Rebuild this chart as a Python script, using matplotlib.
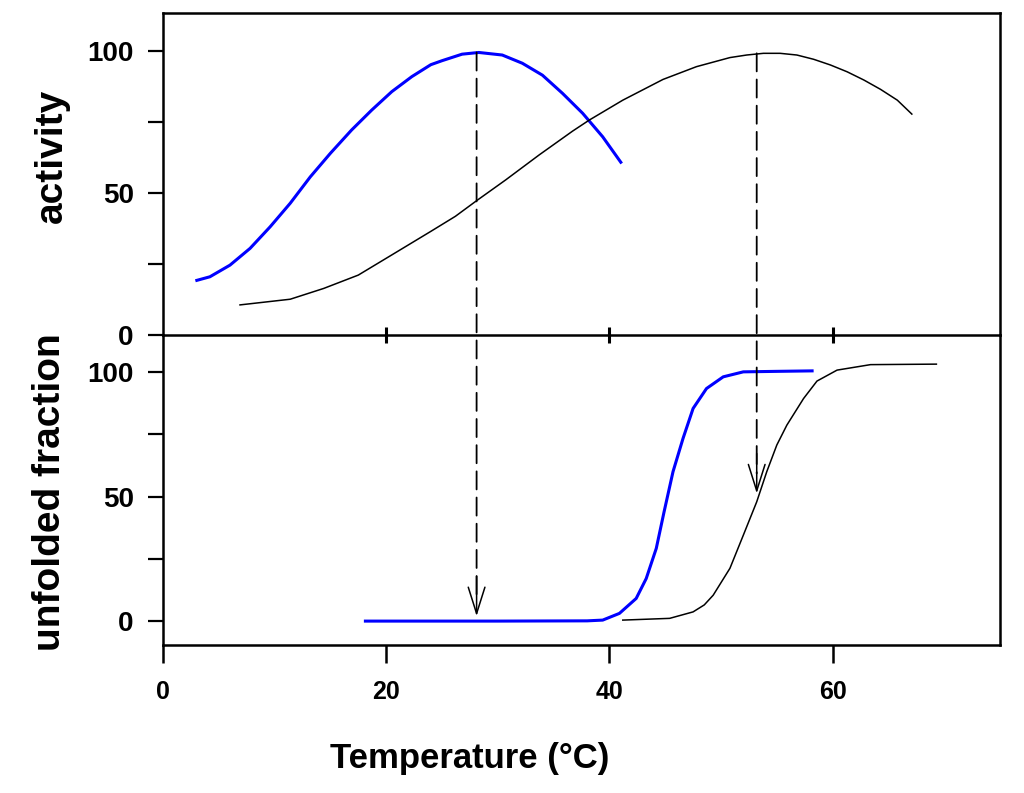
import matplotlib
matplotlib.use("Agg")
import matplotlib.pyplot as plt
from matplotlib import font_manager
from matplotlib.patches import ConnectionPatch

# activity vs temperature (top panel)
act_blue_t = [2.9, 4.2, 6.0, 7.8, 9.6, 11.4, 13.2, 15.0, 16.9, 18.7, 20.5, 22.3, 24.0,
              25.0, 26.8, 28.3, 30.4, 32.2, 34.0, 35.8, 37.6, 39.4, 41.1]
act_blue_y = [19.1, 20.5, 24.6, 30.5, 38.1, 46.4, 55.7, 64.0, 72.2, 79.2, 85.7, 91.0, 95.2,
              96.6, 98.9, 99.5, 98.6, 95.7, 91.5, 85.1, 78.1, 69.8, 60.4]

act_black_t = [6.9, 11.4, 14.4, 17.5, 20.5, 24.0, 26.2, 28.1, 30.7, 33.7, 36.7, 38.2, 41.2,
               44.8, 47.8, 50.8, 52.3, 53.8, 55.3, 56.8, 58.3, 59.8, 61.3, 62.8, 64.3, 65.8, 67.1]
act_black_y = [10.6, 12.6, 16.4, 21.1, 28.2, 36.5, 41.8, 47.3, 54.6, 63.4, 71.8, 75.7, 82.7,
               90.0, 94.5, 97.7, 98.6, 99.2, 99.2, 98.6, 97.1, 95.1, 92.7, 89.8, 86.5, 82.7, 77.8]

# unfolded fraction vs temperature (bottom panel)
unf_blue_t = [18, 30, 38, 39.4, 40.9, 42.4, 43.3, 44.2, 44.9, 45.7, 46.6, 47.5, 48.7,
              50.2, 52.0, 55.0, 58.3]
unf_blue_y = [0, 0, 0.1, 0.4, 3.1, 9.1, 17.1, 29.2, 43.9, 60.0, 73.4, 85.4, 93.4,
              98.1, 100.1, 100.3, 100.5]

unf_black_t = [41.2, 45.4, 47.5, 48.5, 49.3, 50.8, 52.0, 53.2, 54.1, 55.0, 55.9, 57.4, 58.6,
               60.4, 63.4, 69.3]
unf_black_y = [0.4, 1.1, 3.7, 6.5, 10.4, 21.2, 34.5, 47.9, 60.0, 70.7, 78.7, 89.4, 96.4,
               100.8, 103.0, 103.2]

# optimum temperatures marked by the dashed arrows: (T, activity at T, unfolded at arrow tip)
arrows = [(28.1, 99.5, 2.0), (53.2, 99.2, 51.3)]

x_ticks = [0, 20, 40, 60]
y_major = [0, 50, 100]
y_minor = [25, 75]

names = {f.name for f in font_manager.fontManager.ttflist}
base = "Liberation Sans" if "Liberation Sans" in names else "DejaVu Sans"
plt.rcParams["font.family"] = base
plt.rcParams["font.weight"] = "bold"

fig = plt.figure(figsize=(10.24, 7.93), dpi=100)
L, R = 163 / 1024, 1000 / 1024
ax1 = fig.add_axes([L, 1 - 335 / 793, R - L, (335 - 13) / 793])
ax2 = fig.add_axes([L, 1 - 645 / 793, R - L, (645 - 335) / 793])
ax2.patch.set_visible(False)

ax1.plot(act_blue_t, act_blue_y, color="#0000ff", lw=2.2, solid_capstyle="butt")
ax1.plot(act_black_t, act_black_y, color="black", lw=1.1)
ax2.plot(unf_blue_t, unf_blue_y, color="#0000ff", lw=2.2, solid_capstyle="butt")
ax2.plot(unf_black_t, unf_black_y, color="black", lw=1.1)

for ax in (ax1, ax2):
    ax.set_xlim(0, 75)
    for s in ax.spines.values():
        s.set_linewidth(1.8)
    ax.set_yticks(y_major)
    ax.set_yticks(y_minor, minor=True)
    ax.tick_params(axis="y", which="both", direction="out", length=11, width=1.6,
                   pad=10, labelsize=20, right=False)
    for lab in ax.get_yticklabels():
        lab.set_fontweight("bold")

ax1.set_ylim(0, 113.4)
ax2.set_ylim(-9.6, 114.9)
ax2.spines["top"].set_visible(False)
ax1.spines["bottom"].set_zorder(5)

ax1.set_xticks(x_ticks[1:])
ax1.tick_params(axis="x", direction="inout", length=12, width=2.2, labelbottom=False)

ax2.set_xticks(x_ticks)
ax2.tick_params(axis="x", direction="out", length=13, width=1.8, pad=12, labelsize=18)
for lab in ax2.get_xticklabels():
    lab.set_fontweight("bold")

for t, top_y, tip_y in arrows:
    con = ConnectionPatch(xyA=(t, top_y), coordsA=ax1.transData,
                          xyB=(t, tip_y + 8), coordsB=ax2.transData,
                          color="black", lw=1.3, linestyle=(0, (10, 4.5)))
    fig.add_artist(con)
    ax2.annotate("", xy=(t, tip_y), xytext=(t, tip_y + 16),
                 arrowprops=dict(arrowstyle="->,head_length=1.9,head_width=0.6",
                                 color="black", lw=1.1, shrinkA=0, shrinkB=0,
                                 mutation_scale=10))

fig.text(0.051, 1 - 155.5 / 793, "activity", rotation=90, ha="center", va="center",
         fontsize=28, fontweight="bold")
fig.text(0.049, 1 - 492.5 / 793, "unfolded fraction", rotation=90, ha="center", va="center",
         fontsize=28, fontweight="bold")
fig.text(0.459, 1 - 768 / 793, "Temperature (°C)", ha="center", va="baseline",
         fontsize=25, fontweight="bold")

fig.savefig("out.png", dpi=100)
